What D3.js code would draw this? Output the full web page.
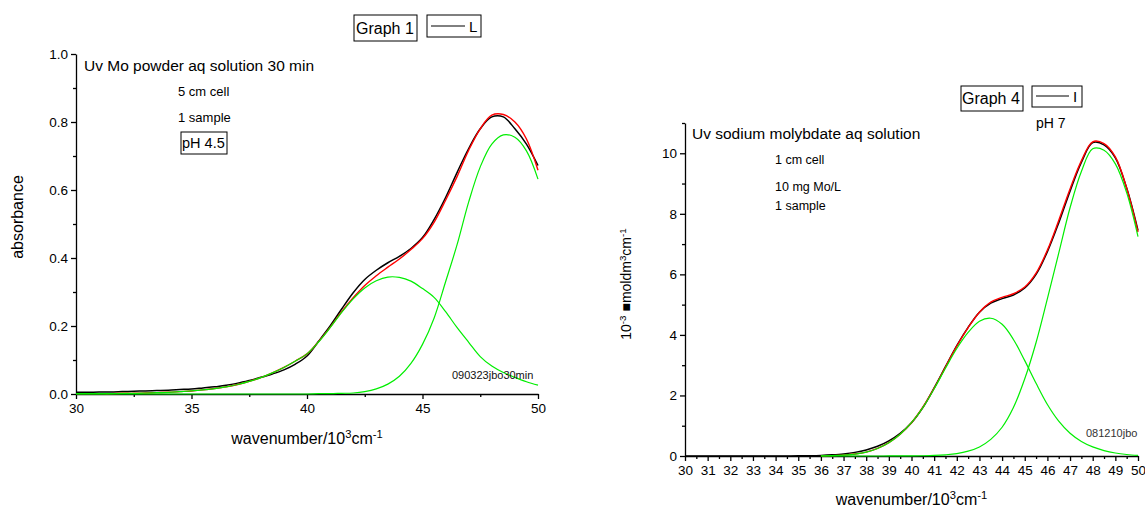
<!DOCTYPE html>
<html>
<head>
<meta charset="utf-8">
<script src="https://cdn.jsdelivr.net/npm/d3@7"></script>
<style>
  body { margin: 0; background: #fff; }
  svg { font-family: "Liberation Sans", Arial, sans-serif; }
  .axis path, .axis line { stroke: #000; stroke-width: 1.3; }
  .axis text { font-size: 13.5px; fill: #000; }
</style>
</head>
<body>
<div id="chart"></div>
<script>
// wavenumber grid (10^3 cm-1), shared by both panels
const wave = [30,30.5,31,31.5,32,32.5,33,33.5,34,34.5,35,35.5,36,36.5,37,37.5,38,38.5,39,39.5,
              40,40.5,41,41.5,42,42.5,43,43.5,44,44.5,45,45.5,46,46.5,47,47.5,48,48.5,49,49.5,50];

// Graph 1 - Mo powder, absorbance
const g1Measured = [0.005,0.005,0.006,0.006,0.007,0.008,0.009,0.010,0.011,0.013,0.015,0.018,0.021,0.026,0.032,0.040,0.049,0.059,0.071,0.088,
                    0.112,0.155,0.200,0.250,0.298,0.337,0.364,0.386,0.405,0.428,0.460,0.513,0.578,0.652,0.722,0.780,0.815,0.815,0.780,0.735,0.672];
const g1Fit      = [0.001,0.001,0.001,0.001,0.002,0.002,0.003,0.004,0.005,0.007,0.009,0.012,0.016,0.021,0.028,0.037,0.048,0.062,0.078,0.097,
                    0.118,0.154,0.196,0.242,0.283,0.319,0.348,0.373,0.397,0.425,0.457,0.505,0.570,0.640,0.717,0.780,0.820,0.822,0.800,0.750,0.658];
const g1Band1    = [0.001,0.001,0.001,0.001,0.002,0.002,0.003,0.004,0.005,0.007,0.009,0.012,0.016,0.021,0.028,0.037,0.048,0.062,0.078,0.097,
                    0.118,0.153,0.195,0.240,0.280,0.312,0.333,0.344,0.343,0.332,0.310,0.284,0.242,0.195,0.152,0.110,0.082,0.063,0.049,0.036,0.026];
const g1Band2    = [0,0,0,0,0,0,0,0,0,0,0,0,0,0,0,0,0,0,0,0,
                    0,0.001,0.001,0.002,0.003,0.007,0.015,0.029,0.052,0.090,0.146,0.223,0.330,0.440,0.565,0.668,0.735,0.762,0.755,0.715,0.632];

// Graph 4 - sodium molybdate, 10^-3 eps
const g4Measured = [0,0,0,0,0,0,0,0.001,0.002,0.003,0.005,0.010,0.020,0.040,0.070,0.120,0.200,0.320,0.500,0.750,
                    1.10,1.60,2.25,2.95,3.65,4.25,4.75,5.05,5.20,5.32,5.55,6.00,6.75,7.70,8.75,9.70,10.35,10.28,9.85,8.85,7.45];
const g4Fit      = [null,null,null,null,null,null,null,null,null,null,null,null,0.005,0.012,0.030,0.065,0.130,0.250,0.440,0.720,
                    1.10,1.61,2.24,2.94,3.63,4.24,4.75,5.08,5.24,5.36,5.58,6.04,6.80,7.78,8.82,9.75,10.38,10.32,9.88,8.85,7.40];
const g4Band1    = [null,null,null,null,null,null,null,null,null,null,null,null,0.005,0.012,0.030,0.065,0.130,0.250,0.440,0.720,
                    1.10,1.60,2.22,2.90,3.55,4.08,4.45,4.55,4.35,3.85,3.15,2.40,1.70,1.15,0.75,0.48,0.30,0.18,0.10,0.05,0.02];
const g4Band2    = [null,null,null,null,null,null,null,null,null,null,null,null,0,0,0,0,0,0,0.001,0.002,
                    0.003,0.008,0.018,0.040,0.080,0.160,0.300,0.550,0.950,1.60,2.55,3.75,5.20,6.70,8.20,9.40,10.15,10.10,9.65,8.70,7.25];

const svg = d3.select("#chart").append("svg")
    .attr("width", 1145)
    .attr("height", 511);

function sup(sel, parts) {
  // parts: [text, isSuper]
  parts.forEach(p => {
    sel.append("tspan")
      .attr("baseline-shift", p[1] ? "super" : null)
      .style("font-size", p[1] ? "0.7em" : null)
      .text(p[0]);
  });
}

function drawPanel(cfg) {
  const x = d3.scaleLinear().domain([30, 50]).range([cfg.x0, cfg.x1]);
  const y = d3.scaleLinear().domain([0, cfg.ymax]).range([cfg.y0, cfg.y1]);
  const g = svg.append("g");

  // axes (minor first, then major with labels)
  g.append("g").attr("class", "axis")
    .attr("transform", `translate(0,${cfg.y0})`)
    .call(d3.axisBottom(x).tickValues(cfg.xMinor).tickSize(3).tickFormat(""))
    .select(".domain").remove();
  g.append("g").attr("class", "axis")
    .attr("transform", `translate(0,${cfg.y0})`)
    .call(d3.axisBottom(x).tickValues(cfg.xMajor).tickSize(5).tickSizeOuter(0).tickPadding(4).tickFormat(d3.format("d")));
  g.append("g").attr("class", "axis")
    .attr("transform", `translate(${cfg.x0},0)`)
    .call(d3.axisLeft(y).tickValues(cfg.yMinor).tickSize(3).tickFormat(""))
    .select(".domain").remove();
  g.append("g").attr("class", "axis")
    .attr("transform", `translate(${cfg.x0},0)`)
    .call(d3.axisLeft(y).tickValues(cfg.yMajor).tickSize(5).tickSizeOuter(0).tickPadding(3).tickFormat(cfg.yFmt));

  const line = d3.line()
    .defined(d => d[1] != null)
    .x(d => x(d[0]))
    .y(d => y(d[1]))
    .curve(d3.curveCatmullRom.alpha(0.5));

  const series = [
    { v: cfg.measured, c: "#000000", w: 1.5 },
    { v: cfg.fit, c: "#ff0000", w: 1.4 },
    { v: cfg.band1, c: "#00ee00", w: 1.2 },
    { v: cfg.band2, c: "#00ee00", w: 1.2 }
  ];
  g.selectAll("path.curve")
    .data(series)
    .join("path")
    .attr("class", "curve")
    .attr("fill", "none")
    .attr("stroke", d => d.c)
    .attr("stroke-width", d => d.w)
    .attr("d", d => line(wave.map((w, i) => [w, d.v[i]])));

  // x label
  const xl = g.append("text")
    .attr("x", (cfg.x0 + cfg.x1) / 2)
    .attr("y", cfg.xLabelY)
    .attr("text-anchor", "middle")
    .style("font-size", "16px");
  sup(xl, [["wavenumber/10", false], ["3", true], ["cm", false], ["-1", true]]);
  return { x, y, g };
}

// ---- Graph 1 ----
const p1 = drawPanel({
  x0: 76, x1: 538, y0: 394, y1: 54, ymax: 1,
  xMajor: [30, 35, 40, 45, 50], xMinor: [32.5, 37.5, 42.5, 47.5],
  yMajor: [0, 0.2, 0.4, 0.6, 0.8, 1.0], yMinor: [0.1, 0.3, 0.5, 0.7, 0.9],
  yFmt: d3.format(".1f"),
  measured: g1Measured, fit: g1Fit, band1: g1Band1, band2: g1Band2,
  xLabelY: 444
});

svg.append("text")
  .attr("transform", "translate(23,217) rotate(-90)")
  .attr("text-anchor", "middle")
  .style("font-size", "16px")
  .text("absorbance");

svg.append("text").attr("x", 84).attr("y", 71).style("font-size", "15.5px")
  .text("Uv Mo powder aq solution 30 min");
svg.append("text").attr("x", 178).attr("y", 96).style("font-size", "13px").text("5 cm cell");
svg.append("text").attr("x", 178).attr("y", 122).style("font-size", "13px").text("1 sample");
svg.append("rect").attr("x", 181).attr("y", 132).attr("width", 46).attr("height", 22)
  .attr("fill", "none").attr("stroke", "#000").attr("stroke-width", 1);
svg.append("text").attr("x", 182).attr("y", 148).style("font-size", "14.5px").text("pH 4.5");
svg.append("text").attr("x", 452).attr("y", 379).style("font-size", "11px").attr("fill", "#111")
  .text("090323jbo30min");

// legend boxes graph 1
svg.append("rect").attr("x", 354).attr("y", 15).attr("width", 63).attr("height", 26)
  .attr("fill", "none").attr("stroke", "#000").attr("stroke-width", 1);
svg.append("text").attr("x", 356).attr("y", 34).style("font-size", "16px").text("Graph 1");
svg.append("rect").attr("x", 427).attr("y", 15).attr("width", 54).attr("height", 22)
  .attr("fill", "none").attr("stroke", "#000").attr("stroke-width", 1);
svg.append("line").attr("x1", 431).attr("x2", 465).attr("y1", 26).attr("y2", 26)
  .attr("stroke", "#000").attr("stroke-width", 1);
svg.append("text").attr("x", 469).attr("y", 32).style("font-size", "15px").text("L");

// ---- Graph 4 ----
const p4 = drawPanel({
  x0: 685, x1: 1138, y0: 456, y1: 123, ymax: 11,
  xMajor: d3.range(30, 51, 1), xMinor: d3.range(30.5, 50, 1),
  yMajor: [0, 2, 4, 6, 8, 10], yMinor: [1, 3, 5, 7, 9, 11],
  yFmt: d3.format("d"),
  measured: g4Measured, fit: g4Fit, band1: g4Band1, band2: g4Band2,
  xLabelY: 505
});

const yl = svg.append("text")
  .attr("transform", "translate(631,284) rotate(-90)")
  .attr("text-anchor", "middle")
  .style("font-size", "14px");
sup(yl, [["10", false], ["-3", true], [" \u25A0moldm", false], ["3", true], ["cm", false], ["-1", true]]);

svg.append("text").attr("x", 692).attr("y", 139).style("font-size", "15.5px")
  .text("Uv sodium molybdate aq solution");
svg.append("text").attr("x", 775).attr("y", 164).style("font-size", "12.5px").text("1 cm cell");
svg.append("text").attr("x", 775).attr("y", 191).style("font-size", "12.5px").text("10 mg Mo/L");
svg.append("text").attr("x", 775).attr("y", 210).style("font-size", "12.5px").text("1 sample");
svg.append("text").attr("x", 1036).attr("y", 128).style("font-size", "14px").text("pH 7");
svg.append("text").attr("x", 1086).attr("y", 437).style("font-size", "11px").attr("fill", "#333")
  .text("081210jbo");

// legend boxes graph 4
svg.append("rect").attr("x", 961).attr("y", 86).attr("width", 62).attr("height", 25)
  .attr("fill", "none").attr("stroke", "#000").attr("stroke-width", 1);
svg.append("text").attr("x", 962).attr("y", 104).style("font-size", "16px").text("Graph 4");
svg.append("rect").attr("x", 1032).attr("y", 86).attr("width", 50).attr("height", 21)
  .attr("fill", "none").attr("stroke", "#000").attr("stroke-width", 1);
svg.append("line").attr("x1", 1036).attr("x2", 1069).attr("y1", 96).attr("y2", 96)
  .attr("stroke", "#000").attr("stroke-width", 1);
svg.append("text").attr("x", 1073).attr("y", 102).style("font-size", "15px").text("I");
</script>
</body>
</html>
